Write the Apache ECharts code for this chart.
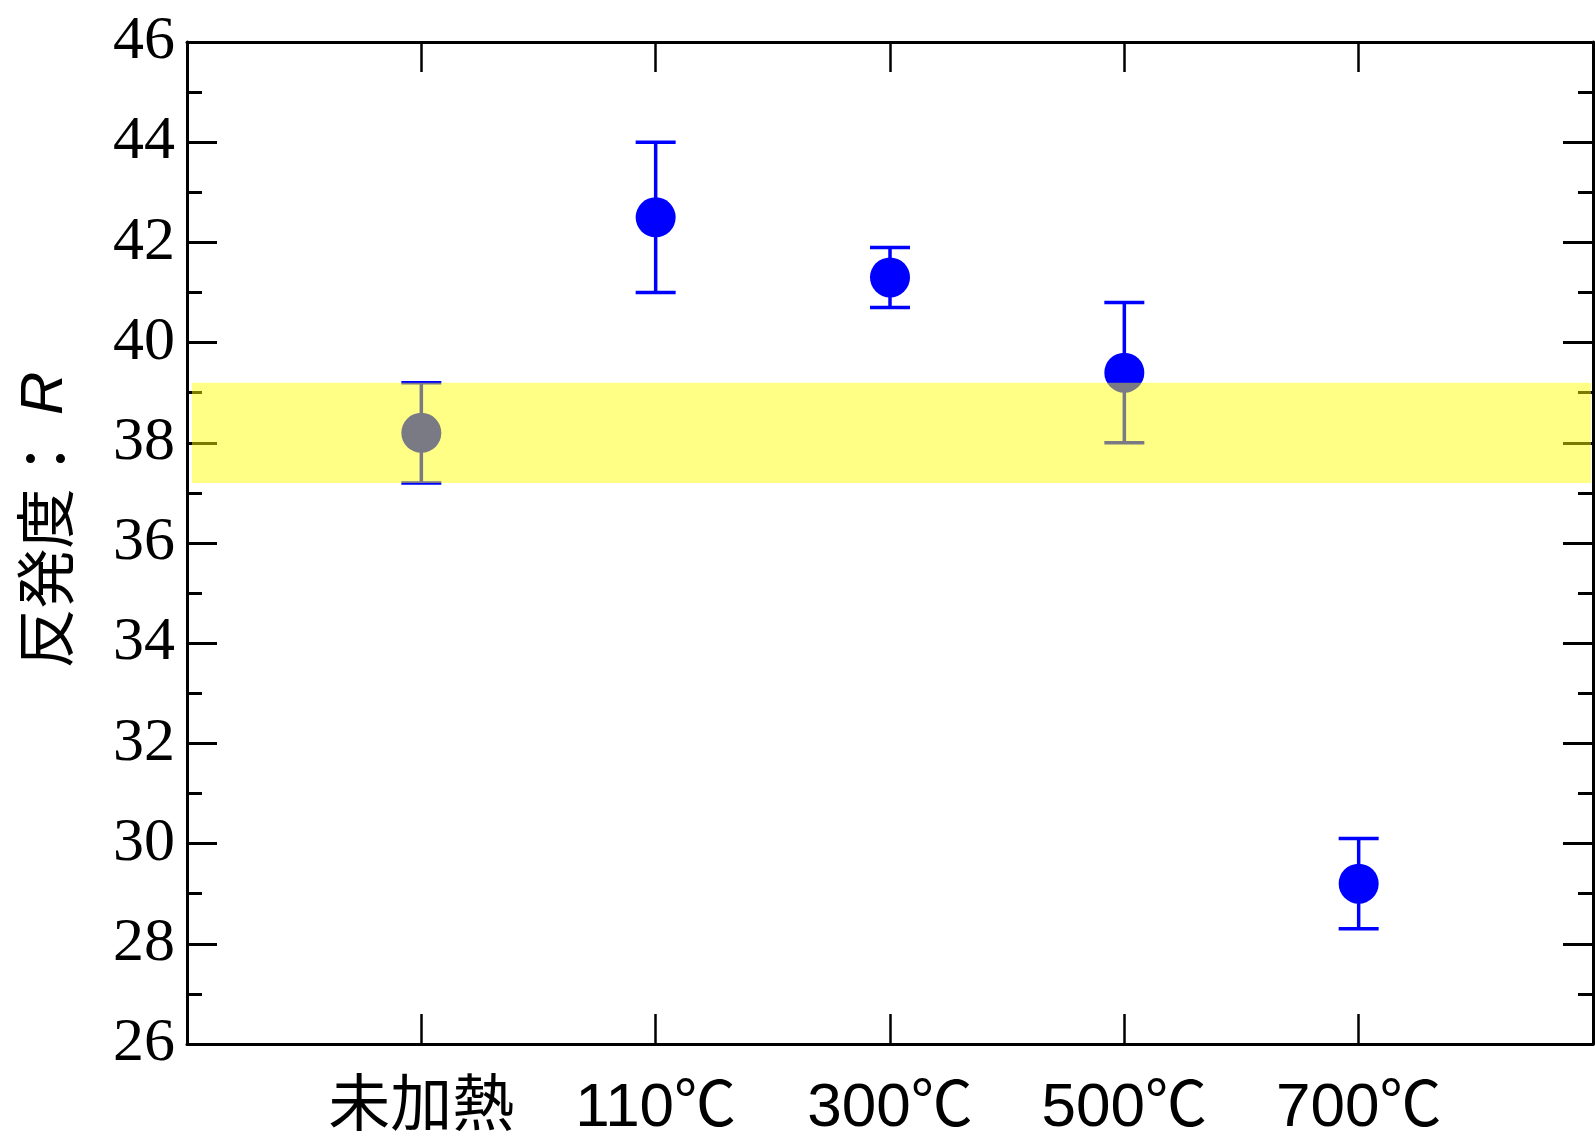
<!DOCTYPE html>
<html>
<head>
<meta charset="utf-8">
<script src="https://cdn.jsdelivr.net/npm/echarts@6/dist/echarts.min.js"></script>
<style>
  html, body { margin: 0; padding: 0; background: #fff; }
  #chart { width: 1595px; height: 1140px; }
</style>
</head>
<body>
<div id="chart"></div>
<script>
// 反発度 R per heating condition
const categories = ["未加熱", "110℃", "300℃", "500℃", "700℃"];
const meanR = [38.2, 42.5, 41.3, 39.4, 29.2];
const upperR = [39.2, 44.0, 41.9, 40.8, 30.1];
const lowerR = [37.2, 41.0, 40.7, 38.0, 28.3];
// reference band (range of the unheated sample)
const bandRange = [37.2, 39.2];
const yTicks = { min: 26, max: 46, interval: 2 };

// empty slots at both ends so the categories sit at 1..5 of 0..6
const xCats = [""].concat(categories, [""]);

const chart = echarts.init(document.getElementById("chart"));

const xLabelFont = "'Liberation Sans', 'Noto Sans CJK JP', sans-serif";
const cjkFont = "'Noto Sans CJK JP', sans-serif";
const yLabelFont = "'Liberation Serif', serif";

function xAxisBase(pos) {
    return {
        type: "category",
        data: xCats,
        position: pos,
        boundaryGap: false,
        axisLine: { show: true, onZero: false, lineStyle: { color: "#000", width: 3 } },
        axisTick: { show: true, inside: true, length: 30, interval: 0, lineStyle: { color: "#000", width: 2.5 } },
        axisLabel: {
            show: pos === "bottom",
            interval: 0,
            margin: 34,
            color: "#000",
            fontSize: 62,
            fontFamily: xLabelFont,
        },
        splitLine: { show: false },
    };
}

function yAxisBase(pos) {
    return {
        type: "value",
        position: pos,
        min: yTicks.min,
        max: yTicks.max,
        interval: yTicks.interval,
        axisLine: { show: true, onZero: false, lineStyle: { color: "#000", width: 3 } },
        axisTick: { show: true, inside: true, length: 30, lineStyle: { color: "#000", width: 3 } },
        minorTick: { show: true, splitNumber: 2, length: 15, lineStyle: { color: "#000", width: 3 } },
        axisLabel: {
            show: pos === "left",
            margin: 12,
            color: "#000",
            fontSize: 62,
            fontFamily: yLabelFont,
        },
        splitLine: { show: false },
    };
}

const yLeft = yAxisBase("left");
yLeft.name = "反発度： {i|R}";
yLeft.nameLocation = "middle";
yLeft.nameGap = 112;
yLeft.nameRotate = 90;
yLeft.nameTextStyle = {
    color: "#000",
    fontSize: 60,
    fontFamily: cjkFont,
    padding: [0, 0, 0, 46],
    rich: {
        i: { fontStyle: "italic", fontSize: 60, fontFamily: "'Liberation Sans', sans-serif", color: "#000" },
    },
};

chart.setOption({
    animation: false,
    backgroundColor: "#fff",
    grid: { left: 187, right: 2, top: 42, bottom: 96, containLabel: false, outerBoundsMode: "none" },
    xAxis: [xAxisBase("bottom"), xAxisBase("top")],
    yAxis: [yLeft, yAxisBase("right")],
    series: [
        {
            name: "error",
            type: "custom",
            z: 2,
            encode: { x: 0, y: [1, 2] },
            data: categories.map((c, i) => [c, lowerR[i], upperR[i]]),
            renderItem: function (params, api) {
                const lo = api.coord([api.value(0), api.value(1)]);
                const hi = api.coord([api.value(0), api.value(2)]);
                const half = 20;
                const style = { stroke: "#0000ff", lineWidth: 3.5 };
                return {
                    type: "group",
                    children: [
                        { type: "line", shape: { x1: lo[0], y1: lo[1], x2: hi[0], y2: hi[1] }, style: style },
                        { type: "line", shape: { x1: hi[0] - half, y1: hi[1], x2: hi[0] + half, y2: hi[1] }, style: style },
                        { type: "line", shape: { x1: lo[0] - half, y1: lo[1], x2: lo[0] + half, y2: lo[1] }, style: style },
                    ],
                };
            },
        },
        {
            name: "R",
            type: "scatter",
            z: 3,
            symbol: "circle",
            symbolSize: 40,
            itemStyle: { color: "#0000ff", opacity: 1 },
            data: categories.map((c, i) => [c, meanR[i]]),
        },
        {
            name: "band",
            type: "custom",
            z: 10,
            silent: true,
            encode: { x: 0, y: [1, 2] },
            data: [[categories[0], bandRange[0], bandRange[1]]],
            renderItem: function (params, api) {
                const cs = params.coordSys;
                const top = api.coord([api.value(0), api.value(2)])[1];
                const bot = api.coord([api.value(0), api.value(1)])[1];
                return {
                    type: "rect",
                    shape: { x: cs.x + 5, y: top, width: cs.width - 7, height: bot - top },
                    style: { fill: "rgba(255,255,0,0.48)" },
                };
            },
        },
    ],
});
</script>
</body>
</html>
